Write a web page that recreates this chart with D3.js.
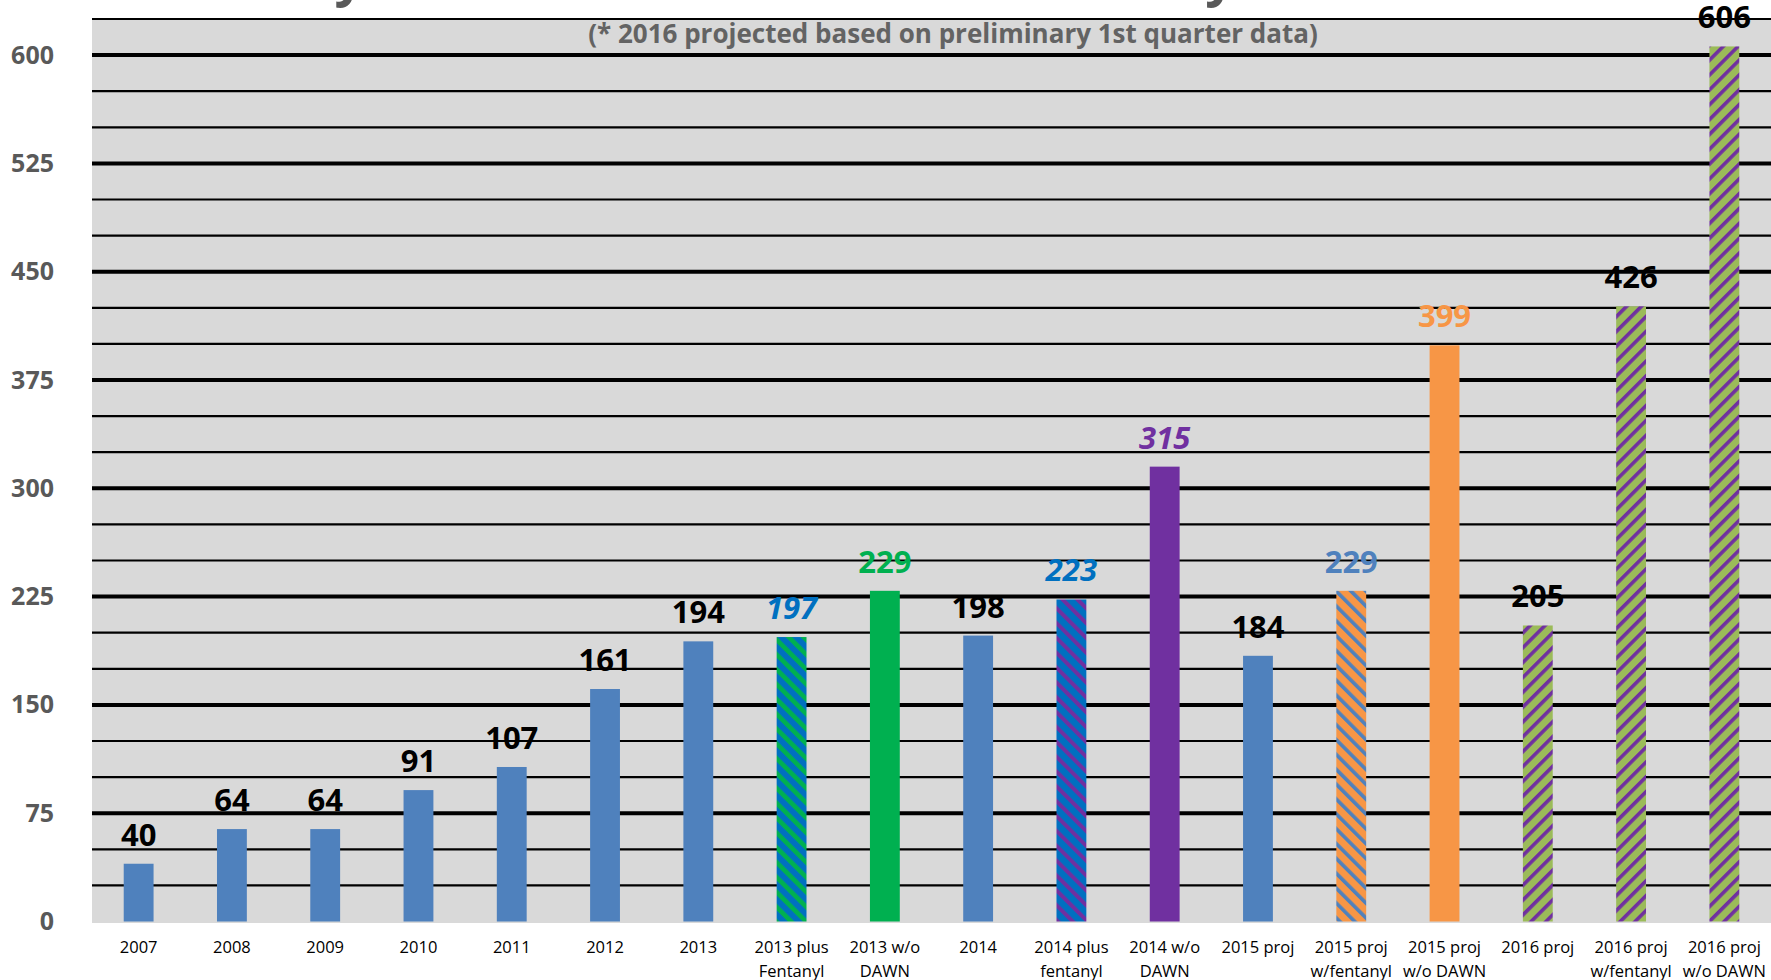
<!DOCTYPE html>
<html>
<head>
<meta charset="utf-8">
<script src="https://cdn.jsdelivr.net/npm/d3@7"></script>
<style>
  html, body { margin: 0; padding: 0; background: #fff; }
  svg { display: block; }
</style>
</head>
<body>
<div id="chart"></div>
<script>
// chart data
const categories = ["2007", "2008", "2009", "2010", "2011", "2012", "2013",
    "2013 plus\nFentanyl", "2013 w/o\nDAWN", "2014", "2014 plus\nfentanyl", "2014 w/o\nDAWN",
    "2015 proj", "2015 proj\nw/fentanyl", "2015 proj\nw/o DAWN",
    "2016 proj", "2016 proj\nw/fentanyl", "2016 proj\nw/o DAWN"];
const values = [40, 64, 64, 91, 107, 161, 194, 197, 229, 198, 223, 315, 184, 229, 399, 205, 426, 606];
const yTickLabels = [0, 75, 150, 225, 300, 375, 450, 525, 600];
const subtitle = "(* 2016 projected based on preliminary 1st quarter data)";
const title = "Heroin Overdose Deaths by Calendar Year Across the County";

// styles per category (kept apart from the data)
const blue = "#4f81bd";
const barFill = {
    "2013 plus\nFentanyl": "url(#stripe2013)",
    "2013 w/o\nDAWN": "#00b050",
    "2014 plus\nfentanyl": "url(#stripe2014)",
    "2014 w/o\nDAWN": "#7030a0",
    "2015 proj\nw/fentanyl": "url(#stripe2015)",
    "2015 proj\nw/o DAWN": "#f79646",
    "2016 proj": "url(#stripe2016)",
    "2016 proj\nw/fentanyl": "url(#stripe2016)",
    "2016 proj\nw/o DAWN": "url(#stripe2016)"
};
const labelStyle = {
    "2013 plus\nFentanyl": {color: "#0070c0", italic: true},
    "2013 w/o\nDAWN": {color: "#00b050"},
    "2014 plus\nfentanyl": {color: "#0070c0", italic: true},
    "2014 w/o\nDAWN": {color: "#7030a0", italic: true},
    "2015 proj\nw/fentanyl": {color: "#4f81bd"},
    "2015 proj\nw/o DAWN": {color: "#f79646"}
};

const width = 1771, height = 980;
const plot = {left: 92, right: 1771, top: 19, bottom: 921.5};
const font = "'Open Sans', 'Noto Sans', sans-serif";

const svg = d3.select("#chart")
    .append("svg")
        .attr("width", width)
        .attr("height", height)
        .style("font-family", font);

// stripe patterns for the combined bars
const defs = svg.append("defs");
const stripes = [
    {id: "stripe2013", bg: "#0070c0", fg: "#00b050", w: 4.6, angle: -45},
    {id: "stripe2014", bg: "#0070c0", fg: "#7030a0", w: 4, angle: -45},
    {id: "stripe2015", bg: "#f79646", fg: "#4f81bd", w: 3.6, angle: -45},
    {id: "stripe2016", bg: "#9bbb59", fg: "#7030a0", w: 3.6, angle: 45}
];
const period = 10.5;
stripes.forEach(s => {
    const p = defs.append("pattern")
        .attr("id", s.id)
        .attr("patternUnits", "userSpaceOnUse")
        .attr("width", period)
        .attr("height", period)
        .attr("patternTransform", `rotate(${s.angle})`);
    p.append("rect").attr("width", period).attr("height", period).attr("fill", s.bg);
    p.append("rect").attr("width", s.w).attr("height", period).attr("fill", s.fg);
});

const x = d3.scaleBand()
    .domain(categories)
    .range([plot.left, plot.right])
    .paddingInner(0.68)
    .paddingOuter(0.34);

const y = d3.scaleLinear()
    .domain([0, 625])
    .range([plot.bottom, plot.top]);

// plot background
svg.append("rect")
    .attr("x", plot.left)
    .attr("y", plot.top)
    .attr("width", plot.right - plot.left)
    .attr("height", plot.bottom - plot.top + 1.5)
    .attr("fill", "#d9d9d9");

// gridlines: thin every 25, thick every 75 (none on the zero line)
svg.append("g")
    .selectAll("line")
    .data(d3.range(25, 626, 25))
    .join("line")
    .attr("x1", plot.left)
    .attr("x2", plot.right)
    .attr("y1", d => y(d))
    .attr("y2", d => y(d))
    .attr("stroke", "#000")
    .attr("stroke-width", d => d % 75 === 0 ? 4 : 2.2);

// title (mostly above the page edge, as in the picture)
const titleText = svg.append("text")
    .attr("fill", "#595959")
    .style("font-size", "46px")
    .style("font-weight", "bold")
    .text(title);
{
    const i1 = title.indexOf("by") + 1, i2 = title.lastIndexOf("y");
    const e1 = titleText.node().getExtentOfChar(i1), e2 = titleText.node().getExtentOfChar(i2);
    const size = 46 * 871 / (e2.x - e1.x);
    titleText.style("font-size", size + "px").attr("y", -size * 0.1);
    const f1 = titleText.node().getExtentOfChar(i1);
    titleText.attr("x", 342 - (f1.x + f1.width * 0.25));
}

// subtitle
svg.append("text")
    .attr("x", 953)
    .attr("y", 43)
    .attr("text-anchor", "middle")
    .attr("fill", "#636363")
    .style("font-size", "26px")
    .style("font-weight", "bold")
    .text(subtitle);

// y axis labels
const yAxis = svg.append("g")
    .attr("transform", `translate(${plot.left},0)`)
    .call(d3.axisLeft(y).tickValues(yTickLabels).tickSize(0).tickPadding(38));
yAxis.select(".domain").remove();
yAxis.selectAll("text")
    .attr("fill", "#595959")
    .style("font-family", font)
    .style("font-size", "25px")
    .style("font-weight", "bold");

// x axis labels, split on line breaks
const xAxis = svg.append("g")
    .attr("transform", `translate(0,${plot.bottom})`)
    .call(d3.axisBottom(x).tickSize(0));
xAxis.select(".domain").remove();
xAxis.selectAll("text")
    .attr("y", 31)
    .attr("dy", null)
    .attr("fill", "#000")
    .style("font-family", font)
    .style("font-size", "16.5px")
    .each(function(d) {
        const t = d3.select(this).text(null);
        d.split("\n").forEach((line, i) => {
            t.append("tspan").attr("x", 0).attr("dy", i === 0 ? 0 : 24).text(line);
        });
    });

// bars
const data = categories.map((c, i) => ({key: c, value: values[i]}));
svg.append("g")
    .selectAll("rect")
    .data(data)
    .join("rect")
    .attr("x", d => x(d.key))
    .attr("y", d => y(d.value))
    .attr("width", x.bandwidth())
    .attr("height", d => y(0) - y(d.value))
    .attr("fill", d => barFill[d.key] || blue);

// value labels
svg.append("g")
    .selectAll("text")
    .data(data)
    .join("text")
    .attr("x", d => x(d.key) + x.bandwidth() / 2)
    .attr("y", d => y(d.value) - 18)
    .attr("text-anchor", "middle")
    .attr("fill", d => (labelStyle[d.key] || {}).color || "#000")
    .style("font-style", d => (labelStyle[d.key] || {}).italic ? "italic" : "normal")
    .style("font-size", "31px")
    .style("font-weight", "bold")
    .text(d => d.value);
</script>
</body>
</html>
